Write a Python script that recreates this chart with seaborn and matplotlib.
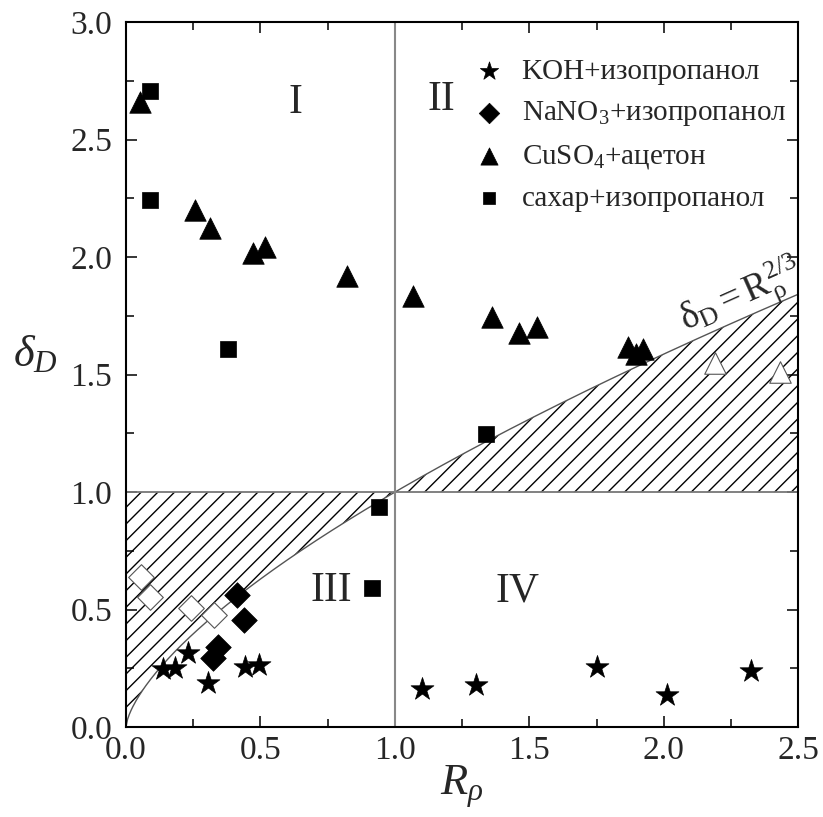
import matplotlib
matplotlib.use('Agg')
import matplotlib.pyplot as plt
import numpy as np
import pandas as pd
import seaborn as sns

# KOH + isopropanol (stars)
koh_r = [0.138, 0.182, 0.231, 0.305, 0.443, 0.495, 1.101, 1.302, 1.752, 2.013, 2.325]
koh_d = [0.247, 0.251, 0.315, 0.187, 0.255, 0.264, 0.162, 0.179, 0.255, 0.136, 0.238]

# NaNO3 + isopropanol (filled diamonds) and open diamonds
nano3_r = [0.413, 0.439, 0.342, 0.324]
nano3_d = [0.562, 0.455, 0.340, 0.293]
nano3_open_r = [0.056, 0.089, 0.242, 0.327]
nano3_open_d = [0.638, 0.553, 0.506, 0.477]

# CuSO4 + acetone (filled triangles) and open triangles
cuso4_r = [0.052, 0.257, 0.313, 0.472, 0.517, 0.822, 1.068, 1.362, 1.462, 1.529, 1.868, 1.897, 1.923]
cuso4_d = [2.66, 2.20, 2.123, 2.017, 2.043, 1.919, 1.834, 1.745, 1.677, 1.702, 1.617, 1.587, 1.609]
cuso4_open_r = [2.19, 2.433]
cuso4_open_d = [1.549, 1.511]

# sugar + isopropanol (squares)
sugar_r = [0.089, 0.089, 0.379, 1.339, 0.941, 0.915]
sugar_d = [2.706, 2.243, 1.609, 1.247, 0.936, 0.592]

labels = ['KOH+изопропанол', 'NaNO$_3$+изопропанол', 'CuSO$_4$+ацетон', 'сахар+изопропанол']

sns.set_style('ticks')
plt.rcParams['font.family'] = ['Liberation Serif', 'DejaVu Serif']
plt.rcParams['mathtext.fontset'] = 'custom'
plt.rcParams['mathtext.rm'] = 'Liberation Serif'
plt.rcParams['mathtext.it'] = 'Liberation Serif:italic'
plt.rcParams['mathtext.bf'] = 'Liberation Serif:bold'
plt.rcParams['hatch.linewidth'] = 1.0

fig = plt.figure(figsize=(8.23, 8.17), dpi=100)
ax = fig.add_axes([0.153, 0.110, 0.817, 0.863])

# hatched zone between delta = R^(2/3) and delta = 1
r = np.linspace(0, 2.5, 400)
curve = r ** (2 / 3)
ax.fill_between(r, curve, 1.0, facecolor='none', edgecolor='black', hatch='//', linewidth=0)
ax.plot(r, curve, color='#555555', lw=1.0)
ax.plot([0, 2.5], [1, 1], color='#777777', lw=1.3)
ax.axvline(1.0, color='#888888', lw=1.5)

df = pd.concat([
    pd.DataFrame({'R': koh_r, 'd': koh_d, 'g': labels[0]}),
    pd.DataFrame({'R': nano3_r, 'd': nano3_d, 'g': labels[1]}),
    pd.DataFrame({'R': cuso4_r, 'd': cuso4_d, 'g': labels[2]}),
    pd.DataFrame({'R': sugar_r, 'd': sugar_d, 'g': labels[3]}),
])
markers = {labels[0]: '*', labels[1]: 'D', labels[2]: '^', labels[3]: 's'}
sizes = {labels[0]: 300, labels[1]: 170, labels[2]: 240, labels[3]: 130}

for lab in labels:
    sub = df[df['g'] == lab]
    sns.scatterplot(data=sub, x='R', y='d', ax=ax, marker=markers[lab], s=sizes[lab],
                    color='black', edgecolor='black', linewidth=0.5, label=lab, zorder=4)

sns.scatterplot(x=nano3_open_r, y=nano3_open_d, ax=ax, marker='D', s=170,
                color='white', edgecolor='#555555', linewidth=0.8, zorder=4)
sns.scatterplot(x=cuso4_open_r, y=cuso4_open_d, ax=ax, marker='^', s=240,
                color='white', edgecolor='#555555', linewidth=0.8, zorder=4)

ax.set_xlim(0, 2.5)
ax.set_ylim(0, 3.0)
ax.set_xticks(np.arange(0, 2.51, 0.5))
ax.set_yticks(np.arange(0, 3.01, 0.5))
ax.set_xticks(np.arange(0.25, 2.5, 0.5), minor=True)
ax.set_yticks(np.arange(0.25, 3.0, 0.5), minor=True)
ax.xaxis.set_major_formatter(matplotlib.ticker.FormatStrFormatter('%.1f'))
ax.yaxis.set_major_formatter(matplotlib.ticker.FormatStrFormatter('%.1f'))
ax.tick_params(which='both', direction='in', top=True, right=True, width=1.3, labelsize=24)
ax.tick_params(which='major', length=8)
ax.tick_params(which='minor', length=6)
ax.tick_params(axis='x', pad=6)
ax.tick_params(axis='y', pad=10)
for sp in ax.spines.values():
    sp.set_linewidth(1.5)
    sp.set_color('black')

ax.set_xlabel(r'$R_\rho$', fontsize=32, labelpad=-2)
ax.set_ylabel(r'$\delta_D$', fontsize=32, rotation=0, labelpad=4)
ax.yaxis.set_label_coords(-0.135, 0.50)

for txt, x, y in [('I', 0.629, 2.655), ('II', 1.172, 2.668), ('III', 0.763, 0.579), ('IV', 1.455, 0.579)]:
    ax.text(x, y, txt, fontsize=30, ha='center', va='center')

ax.text(2.29, 1.83, r'$\mathrm{\delta_D = R_\rho^{2/3}}$', fontsize=27, rotation=24,
        ha='center', va='center')

leg = ax.legend(loc='upper left', bbox_to_anchor=(0.493, 0.965), frameon=False, fontsize=21,
                handletextpad=0.4, borderaxespad=0, labelspacing=0.5, markerscale=0.8,
                handlelength=1.4)

fig.savefig('out.png', dpi=100)
